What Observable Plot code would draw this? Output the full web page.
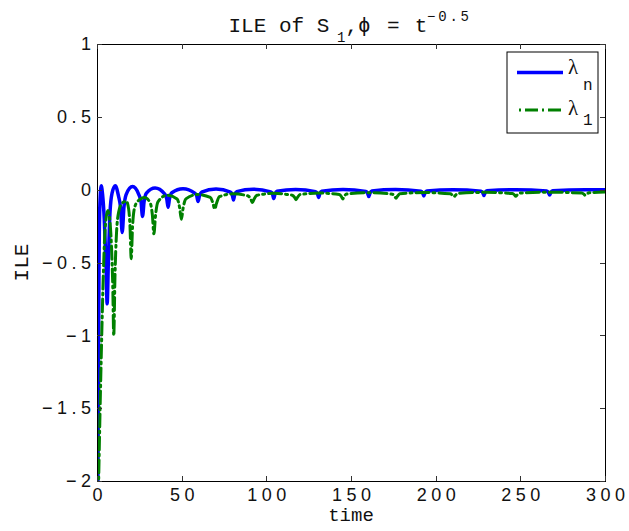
<!DOCTYPE html>
<html><head><meta charset="utf-8">
<script src="https://cdn.jsdelivr.net/npm/d3@7"></script>
<script src="https://cdn.jsdelivr.net/npm/@observablehq/plot@0.6"></script>
<style>
html,body{margin:0;padding:0;background:#fff;}
g[aria-label="y-axis tick label"] text{letter-spacing:4.5px;}
g[aria-label="x-axis tick label"] text{letter-spacing:4.5px;}
</style>
</head><body><div id="chart"></div>
<script>
// ---- data ----
const xTicks = [0, 50, 100, 150, 200, 250, 300];
const yTicks = [-2, -1.5, -1, -0.5, 0, 0.5, 1];

// lambda_n (blue, solid)
const lambdaN_t = [0.2, 0.5, 0.9, 1.4, 2.2, 3.0, 4.0, 5.0, 5.7, 6.4, 7.4, 8.6, 10.5, 12.4, 13.6, 14.6, 15.6, 16.9, 20.7, 24.4, 25.7, 26.6, 27.5, 28.9, 34.0, 39.6, 40.9, 41.7, 42.5, 43.9, 50.5, 57.4, 58.6, 59.4, 60.2, 61.5, 70.0, 78.5, 79.6, 80.3, 81.0, 82.2, 92.0, 102.3, 103.4, 104.1, 104.8, 106.0, 117.0, 128.8, 129.9, 130.6, 131.3, 132.4, 145.0, 158.5, 159.5, 160.2, 160.9, 162.0, 176.0, 191.0, 192.0, 192.7, 193.4, 194.5, 210.0, 226.5, 227.5, 228.2, 228.9, 230.0, 247.0, 265.3, 266.3, 267.0, 267.7, 268.8, 288.0, 300.0];
const lambdaN_v = [-2.1, -1.3, -0.5, -0.1, 0.03, -0.03, -0.2, -0.5, -0.78, -0.5, -0.15, -0.02, 0.03, -0.04, -0.12, -0.29, -0.12, -0.03, 0.025, -0.03, -0.08, -0.18, -0.08, -0.02, 0.015, -0.025, -0.06, -0.117, -0.06, -0.018, 0.01, -0.02, -0.04, -0.078, -0.04, -0.013, 0.008, -0.013, -0.032, -0.068, -0.032, -0.01, 0.006, -0.012, -0.028, -0.058, -0.028, -0.008, 0.005, -0.01, -0.024, -0.05, -0.024, -0.007, 0.004, -0.009, -0.021, -0.044, -0.021, -0.006, 0.004, -0.008, -0.019, -0.04, -0.019, -0.005, 0.003, -0.007, -0.017, -0.036, -0.017, -0.004, 0.003, -0.006, -0.016, -0.034, -0.016, -0.004, 0.003, 0.002];

// lambda_1 (green, dash-dot)
const lambda1_t = [0.5, 1.0, 1.8, 2.6, 3.4, 4.2, 5.0, 6.1, 7.2, 8.3, 9.0, 9.6, 10.3, 11.2, 12.5, 14.5, 17.0, 18.4, 19.2, 19.9, 20.7, 21.7, 23.5, 27.8, 31.2, 32.4, 33.3, 34.3, 35.7, 41.0, 47.0, 48.5, 49.5, 50.6, 52.2, 59.0, 66.6, 68.2, 69.2, 70.3, 72.0, 80.0, 89.0, 90.6, 91.5, 92.5, 94.2, 104.0, 115.0, 116.4, 117.2, 118.1, 119.6, 131.0, 142.8, 144.1, 144.8, 145.6, 147.0, 160.0, 174.2, 175.5, 176.3, 177.1, 178.5, 193.0, 208.4, 209.7, 210.5, 211.3, 212.7, 229.0, 245.0, 246.3, 247.0, 247.8, 249.2, 267.0, 286.0, 287.3, 288.0, 288.8, 290.2, 300.0];
const lambda1_v = [-2.1, -1.8, -1.35, -0.95, -0.6, -0.33, -0.2, -0.14, -0.2, -0.4, -0.65, -1.0, -0.6, -0.3, -0.15, -0.09, -0.075, -0.13, -0.25, -0.47, -0.25, -0.13, -0.08, -0.05, -0.09, -0.17, -0.3, -0.17, -0.08, -0.035, -0.06, -0.12, -0.2, -0.12, -0.06, -0.03, -0.05, -0.09, -0.13, -0.09, -0.045, -0.025, -0.04, -0.065, -0.085, -0.06, -0.035, -0.022, -0.035, -0.05, -0.065, -0.05, -0.03, -0.02, -0.03, -0.045, -0.06, -0.045, -0.027, -0.017, -0.028, -0.042, -0.055, -0.042, -0.025, -0.016, -0.025, -0.036, -0.045, -0.036, -0.022, -0.015, -0.023, -0.033, -0.042, -0.033, -0.02, -0.014, -0.02, -0.028, -0.035, -0.028, -0.018, -0.013];

const xLabel = "time";
const yLabel = "ILE";
const legendNames = [["λ", "n"], ["λ", "1"]];

// ---- build ----
const blueData = lambdaN_t.map((t, i) => ({t, v: lambdaN_v[i]}));
const greenData = lambda1_t.map((t, i) => ({t, v: lambda1_v[i]}));

const BLUE = "#0000ff", GREEN = "#008000";
const DASH = "13,4,2,4";
const TICKFONT = "Liberation Sans, Arial, sans-serif";
const MONO = "Liberation Mono, DejaVu Sans Mono, monospace";
const INK = "#111";
const fmt = d => String(d).replace("-", "\u2212");

const chart = Plot.plot({
  width: 629, height: 531,
  marginLeft: 97, marginRight: 24, marginTop: 44, marginBottom: 50,
  style: {background: "white", color: "black", overflow: "visible"},
  x: {domain: [0, 300], label: null},
  y: {domain: [-2, 1], label: null},
  marks: [
    Plot.line(blueData, {x: "t", y: "v", stroke: BLUE, strokeWidth: 3.5, curve: "monotone-x", clip: true}),
    Plot.line(greenData, {x: "t", y: "v", stroke: GREEN, strokeWidth: 3, strokeDasharray: DASH, curve: "monotone-x", clip: true}),
    Plot.frame({stroke: "black", strokeWidth: 1}),
    Plot.axisX(xTicks, {tickSize: 0, tickPadding: 7, fontSize: 18, fontFamily: TICKFONT, fill: INK, label: null, dx: 2.25, tickFormat: fmt}),
    Plot.axisY(yTicks, {tickSize: 0, tickPadding: 2, fontSize: 18, fontFamily: TICKFONT, fill: INK, label: null, tickFormat: fmt})
  ]
});
document.getElementById("chart").appendChild(chart);

const svg = d3.select(chart);
const sx = chart.scale("x"), sy = chart.scale("y");
const x0 = sx.apply(0), x1 = sx.apply(300), yTop = sy.apply(1), yBot = sy.apply(-2);
const tk = 5;
const tg = svg.append("g").attr("stroke", "#333").attr("stroke-width", 1);
xTicks.forEach(v => {
  const x = Math.round(sx.apply(v)) + 0.5;
  tg.append("line").attr("x1", x).attr("x2", x).attr("y1", yBot).attr("y2", yBot - tk);
  tg.append("line").attr("x1", x).attr("x2", x).attr("y1", yTop).attr("y2", yTop + tk);
});
yTicks.forEach(v => {
  const y = Math.round(sy.apply(v)) + 0.5;
  tg.append("line").attr("x1", x0).attr("x2", x0 + tk).attr("y1", y).attr("y2", y);
  tg.append("line").attr("x1", x1).attr("x2", x1 - tk).attr("y1", y).attr("y2", y);
});

// axis labels
svg.append("text").attr("x", (x0 + x1) / 2).attr("y", 521).attr("text-anchor", "middle")
  .attr("font-family", MONO).attr("font-size", 19).attr("fill", INK).text(xLabel);
svg.append("text").attr("transform", `translate(28,${(yTop + yBot) / 2}) rotate(-90)`).attr("text-anchor", "middle")
  .attr("font-family", MONO).attr("font-size", 21).attr("fill", INK).text(yLabel);

// title: ILE of S_1, ϕ = t^{-0.5}
const tt = svg.append("g").attr("fill", INK).attr("font-family", MONO).attr("text-anchor", "start");
tt.append("text").attr("x", 228.5).attr("y", 32).attr("font-size", 21).text("ILE of S");
tt.append("text").attr("x", 337).attr("y", 42).attr("font-size", 14).text("1");
tt.append("text").attr("x", 345.5).attr("y", 32).attr("font-size", 21).text(",ϕ");
tt.append("text").attr("x", 393.3).attr("y", 32).attr("font-size", 21).attr("text-anchor", "middle").text("=");
tt.append("text").attr("x", 421).attr("y", 32).attr("font-size", 21).attr("text-anchor", "middle").text("t");
tt.append("text").attr("x", 427).attr("y", 21).attr("font-size", 14).attr("letter-spacing", 2.8).text("−0.5");

// legend
const lg = svg.append("g").attr("text-anchor", "start");
lg.append("rect").attr("x", 507).attr("y", 52).attr("width", 91).attr("height", 81)
  .attr("fill", "white").attr("stroke", "black").attr("stroke-width", 1);
const rows = [{y: 72.5, base: 73.5, sub: 90, color: BLUE, w: 3.5, dash: null},
              {y: 110, base: 115, sub: 125, color: GREEN, w: 3, dash: DASH}];
rows.forEach((r, i) => {
  const l = lg.append("line").attr("x1", 517).attr("x2", 563).attr("y1", r.y).attr("y2", r.y)
    .attr("stroke", r.color).attr("stroke-width", r.w);
  if (r.dash) l.attr("stroke-dasharray", r.dash).attr("stroke-dashoffset", 15);
  lg.append("text").attr("x", 568).attr("y", r.base).attr("font-family", "Liberation Serif, serif")
    .attr("font-size", 21).attr("fill", INK).text(legendNames[i][0]);
  lg.append("text").attr("x", 583).attr("y", r.sub).attr("font-family", MONO)
    .attr("font-size", 16).attr("fill", INK).text(legendNames[i][1]);
});
</script>
</body></html>
